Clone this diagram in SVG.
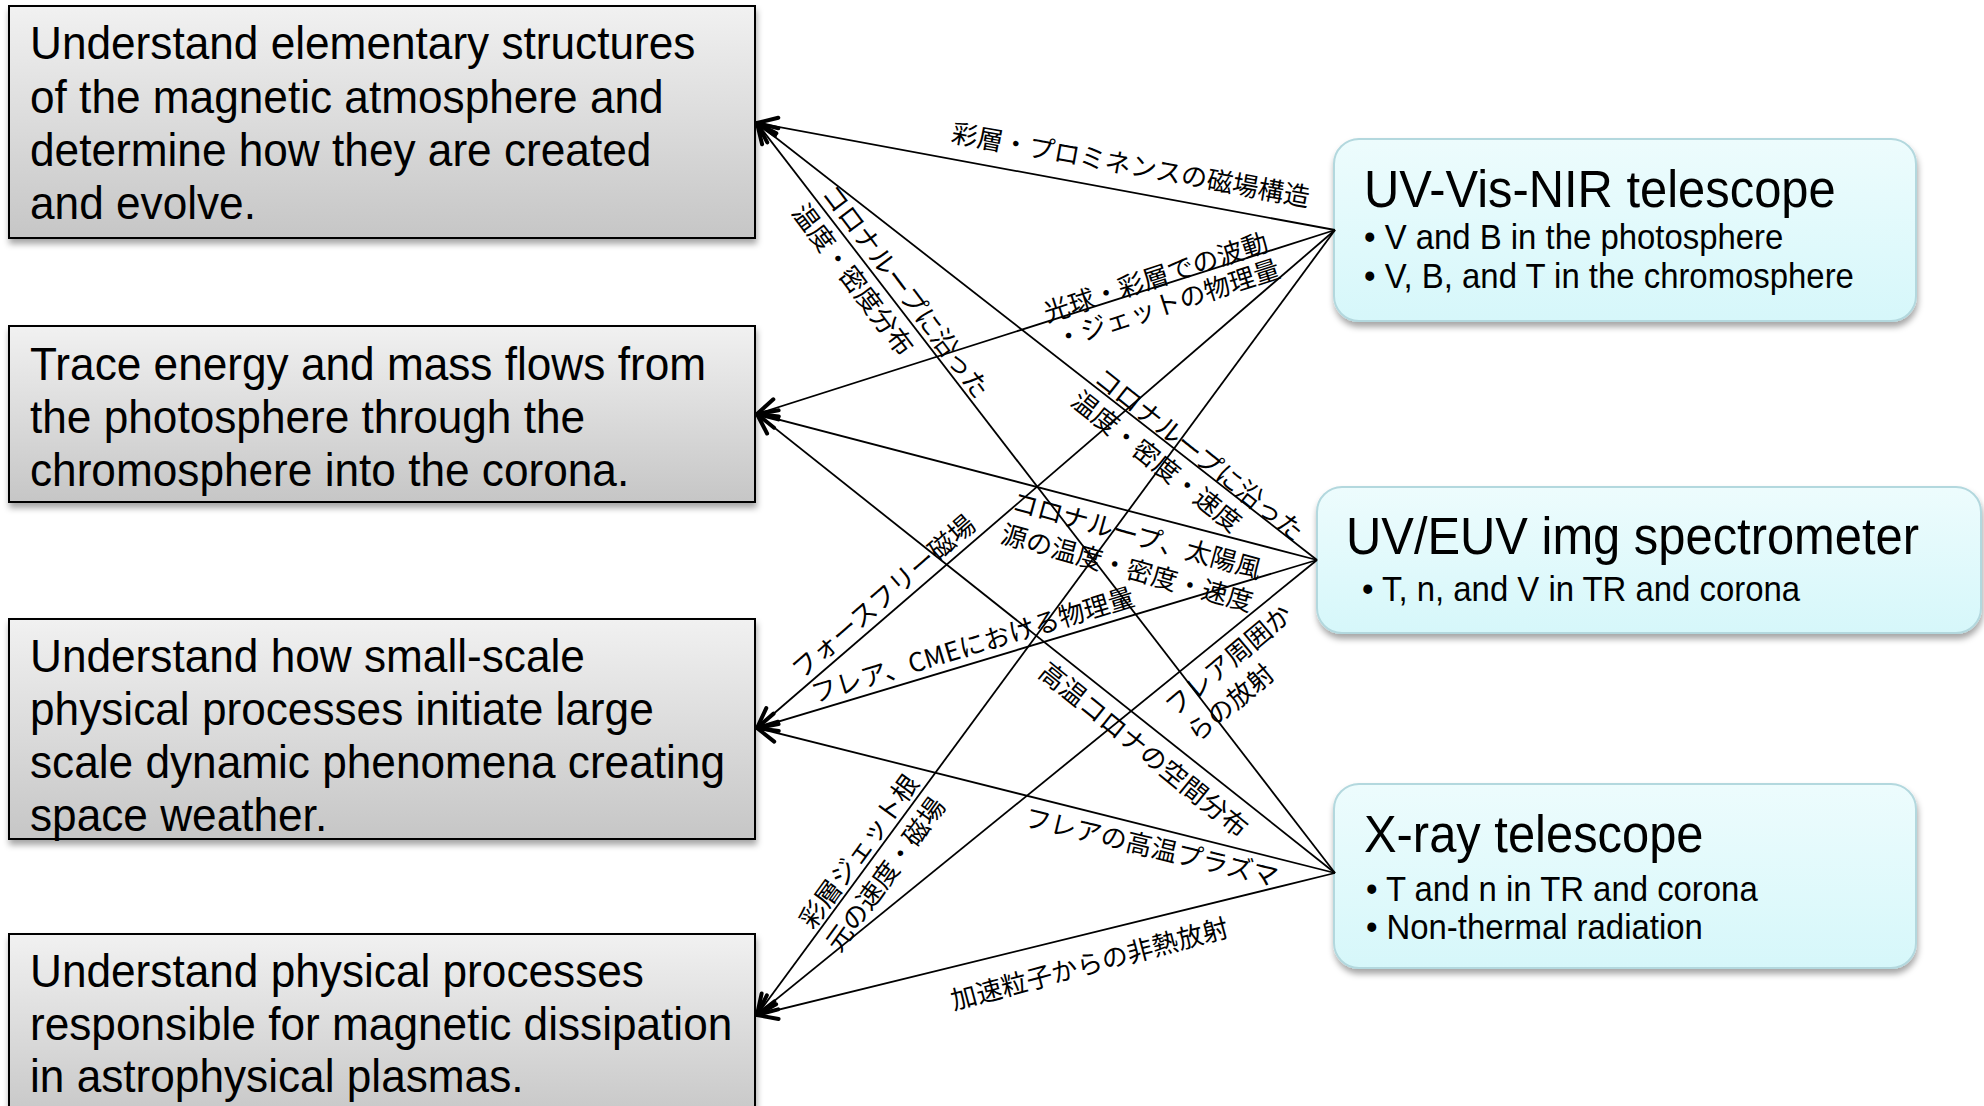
<svg xmlns="http://www.w3.org/2000/svg" width="1984" height="1106" viewBox="0 0 1984 1106">
  <defs>
    <linearGradient id="goalFill" x1="0" y1="0" x2="0" y2="1">
      <stop offset="0" stop-color="#f1f1f1"/>
      <stop offset="1" stop-color="#c6c6c6"/>
    </linearGradient>
    <linearGradient id="instFill" x1="0" y1="0" x2="0" y2="1">
      <stop offset="0" stop-color="#edfcfd"/>
      <stop offset="1" stop-color="#d6f7fa"/>
    </linearGradient>
    <filter id="shadow" x="-5%" y="-10%" width="112%" height="130%">
      <feDropShadow dx="1" dy="5" stdDeviation="3" flood-color="#000" flood-opacity="0.35"/>
    </filter>
    <marker id="arrow" markerUnits="userSpaceOnUse" viewBox="-26 -14 30 28" refX="0" refY="0" markerWidth="30" markerHeight="28" orient="auto" overflow="visible">
      <path d="M-20,-9 L0,0 L-20,9" fill="none" stroke="#000" stroke-width="4" stroke-linejoin="round" stroke-linecap="round"/>
    </marker>
  </defs>
  <style>
    .goal rect { fill: url(#goalFill); stroke: #000; stroke-width: 2; filter: url(#shadow); }
    .goal text, .inst text { font-family: "Liberation Sans", Arial, sans-serif; fill: #000; }
    .goal text { font-size: 47px; }
    .inst rect { fill: url(#instFill); stroke: #b3d8de; stroke-width: 2; filter: url(#shadow); }
    .inst .title { font-size: 52px; }
    .inst .item { font-size: 35px; }
    .links line { stroke: #000; stroke-width: 1.8; marker-end: url(#arrow); }
    .links text { font-family: "Noto Sans CJK JP", sans-serif; font-size: 26px; fill: #000; dominant-baseline: central; }
  </style>

  <rect width="1984" height="1106" fill="#fff"/>

  <!-- science goals (text set slightly condensed) -->
  <g id="goal-1" class="goal">
    <rect x="9" y="6" width="746" height="232"/>
    <g transform="translate(30,0) scale(0.94,1)">
      <text x="0" y="59.5">Understand elementary structures</text>
      <text x="0" y="112.6">of the magnetic atmosphere and</text>
      <text x="0" y="165.8">determine how they are created</text>
      <text x="0" y="219">and evolve.</text>
    </g>
  </g>
  <g id="goal-2" class="goal">
    <rect x="9" y="326" width="746" height="176"/>
    <g transform="translate(30,0) scale(0.94,1)">
      <text x="0" y="379.6">Trace energy and mass flows from</text>
      <text x="0" y="432.7">the photosphere through the</text>
      <text x="0" y="486">chromosphere into the corona.</text>
    </g>
  </g>
  <g id="goal-3" class="goal">
    <rect x="9" y="619" width="746" height="220"/>
    <g transform="translate(30,0) scale(0.94,1)">
      <text x="0" y="672">Understand how small-scale</text>
      <text x="0" y="725">physical processes initiate large</text>
      <text x="0" y="778">scale dynamic phenomena creating</text>
      <text x="0" y="831">space weather.</text>
    </g>
  </g>
  <g id="goal-4" class="goal">
    <rect x="9" y="934" width="746" height="190"/>
    <g transform="translate(30,0) scale(0.94,1)">
      <text x="0" y="987">Understand physical processes</text>
      <text x="0" y="1040">responsible for magnetic dissipation</text>
      <text x="0" y="1092">in astrophysical plasmas.</text>
    </g>
  </g>

  <!-- instruments -->
  <g id="uv-vis-nir" class="inst">
    <rect x="1334" y="139" width="582" height="182" rx="25"/>
    <g transform="translate(1364,0) scale(0.94,1)">
      <text class="title" x="0" y="207">UV-Vis-NIR telescope</text>
      <text class="item" x="0" y="249">• V and B in the photosphere</text>
      <text class="item" x="0" y="288">• V, B, and T in the chromosphere</text>
    </g>
  </g>
  <g id="uv-euv" class="inst">
    <rect x="1317" y="487" width="664" height="146" rx="25"/>
    <g transform="translate(1346,0) scale(0.94,1)">
      <text class="title" x="0" y="554">UV/EUV img spectrometer</text>
      <text class="item" x="17" y="601">• T, n, and V in TR and corona</text>
    </g>
  </g>
  <g id="x-ray" class="inst">
    <rect x="1334" y="784" width="582" height="184" rx="25"/>
    <g transform="translate(1364,0) scale(0.94,1)">
      <text class="title" x="0" y="852">X-ray telescope</text>
      <text class="item" x="2" y="901">• T and n in TR and corona</text>
      <text class="item" x="2" y="939">• Non-thermal radiation</text>
    </g>
  </g>

  <!-- connectors: instrument -> goal, with measured quantity -->
  <g id="connectors" class="links">
    <g id="nir-goal1">
      <line x1="1335" y1="230" x2="757" y2="123"/>
      <text transform="translate(1131,163) rotate(10.3)" text-anchor="middle">彩層・プロミネンスの磁場構造</text>
    </g>
    <g id="nir-goal2">
      <line x1="1335" y1="230" x2="757" y2="414"/>
      <text transform="translate(1056,307) rotate(-18)"><tspan x="-13" y="0">光球・彩層での波動</tspan><tspan x="-10" y="29">・ジェットの物理量</tspan></text>
    </g>
    <g id="nir-goal3">
      <line x1="1335" y1="230" x2="757" y2="728"/>
      <text transform="translate(882,595) rotate(-41)" text-anchor="middle">フォースフリー磁場</text>
    </g>
    <g id="nir-goal4">
      <line x1="1335" y1="230" x2="757" y2="1015"/>
      <text transform="translate(811,913) rotate(-54)"><tspan x="-13" y="0">彩層ジェット根</tspan><tspan x="-16" y="35">元の速度・磁場</tspan></text>
    </g>

    <g id="euv-goal1">
      <line x1="1317" y1="560" x2="757" y2="123"/>
      <text transform="translate(1110,380) rotate(38.5)"><tspan x="-13" y="0">コロナループに沿った</tspan><tspan x="-17" y="32">温度・密度・速度</tspan></text>
    </g>
    <g id="euv-goal2">
      <line x1="1317" y1="560" x2="757" y2="414"/>
      <text transform="translate(1026,502) rotate(15.5)"><tspan x="-13" y="0">コロナループ、太陽風</tspan><tspan x="-15" y="34">源の温度・密度・速度</tspan></text>
    </g>
    <g id="euv-goal3">
      <line x1="1317" y1="560" x2="757" y2="728"/>
      <text transform="translate(972,643) rotate(-17)" text-anchor="middle">フレア、CMEにおける物理量</text>
    </g>
    <g id="euv-goal4">
      <line x1="1317" y1="560" x2="757" y2="1015"/>
      <text transform="translate(1177,700) rotate(-40)"><tspan x="-13" y="0">フレア周囲か</tspan><tspan x="-13" y="34">らの放射</tspan></text>
    </g>

    <g id="xray-goal1">
      <line x1="1335" y1="873" x2="757" y2="123"/>
      <text transform="translate(838,197) rotate(53)"><tspan x="-13" y="0">コロナループに沿った</tspan><tspan x="-16" y="35">温度・密度分布</tspan></text>
    </g>
    <g id="xray-goal2">
      <line x1="1335" y1="873" x2="757" y2="414"/>
      <text transform="translate(1145,748) rotate(39)" text-anchor="middle">高温コロナの空間分布</text>
    </g>
    <g id="xray-goal3">
      <line x1="1335" y1="873" x2="757" y2="728"/>
      <text transform="translate(1152,845) rotate(13.5)" text-anchor="middle">フレアの高温プラズマ</text>
    </g>
    <g id="xray-goal4">
      <line x1="1335" y1="873" x2="757" y2="1015"/>
      <text transform="translate(1089,962) rotate(-15)" text-anchor="middle">加速粒子からの非熱放射</text>
    </g>
  </g>
</svg>
